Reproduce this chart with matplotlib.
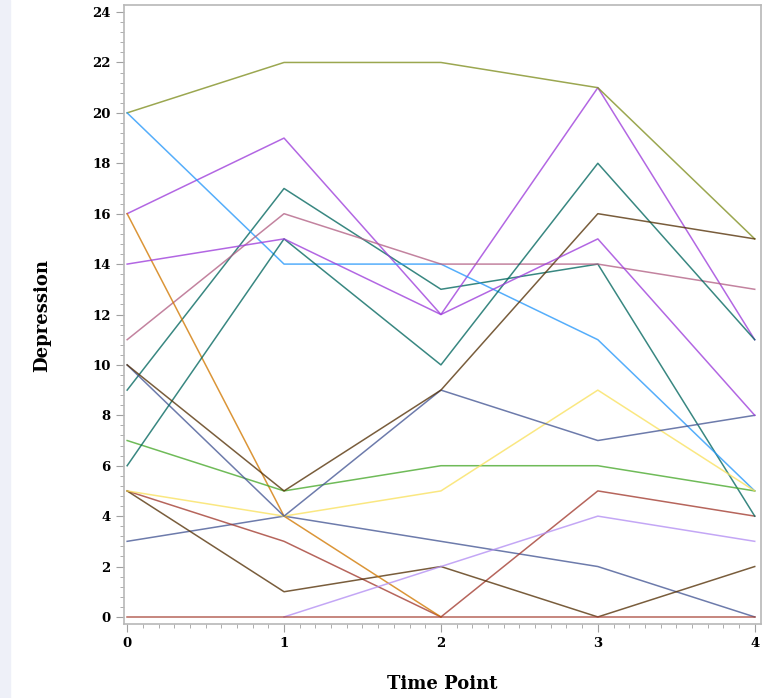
import numpy as np
import matplotlib.pyplot as plt
from matplotlib.ticker import MultipleLocator
from matplotlib.patches import Rectangle

plt.rcParams['font.family'] = 'DejaVu Serif'

time_points = [0, 1, 2, 3, 4]
nan = np.nan

# one profile per subject
subjects = [
    [3, 4, 3, 2, 0],
    [5, 3, 0, 5, 4],
    [9, 17, 13, 14, 4],
    [5, 1, 2, 0, 2],
    [16, 19, 12, 21, 11],
    [20, 22, 22, 21, 15],
    [20, 14, 14, 11, 5],
    [11, 16, 14, 14, 13],
    [16, 4, 0, nan, nan],
    [7, 5, 6, 6, 5],
    [nan, 0, 2, 4, 3],
    [5, 4, 5, 9, 5],
    [10, 4, 9, 7, 8],
    [0, 0, 0, 0, 0],
    [6, 15, 10, 18, 11],
    [10, 5, 9, 16, 15],
    [14, 15, 12, 15, 8],
]

colors = ['#445694', '#A23A2E', '#01665E', '#543005', '#9D3CDB', '#7F8E1F',
          '#2597FA', '#B26084', '#D17800', '#47A82A', '#B38EF3', '#F9E15E']

fig = plt.figure(figsize=(7.67, 6.98), dpi=100)
fig.patches.append(Rectangle((0, 0), 10 / 767, 1, transform=fig.transFigure,
                             color='#eef0f8', zorder=0))
ax = fig.add_axes([124 / 767, 74 / 698, 637 / 767, 619 / 698])

for i, vals in enumerate(subjects):
    ax.plot(time_points, vals, color=colors[i % len(colors)], lw=1.1, alpha=0.78)

ax.set_xlim(-0.02, 4.04)
ax.set_ylim(-0.28, 24.28)
ax.xaxis.set_major_locator(MultipleLocator(1))
ax.xaxis.set_minor_locator(MultipleLocator(0.1))
ax.yaxis.set_major_locator(MultipleLocator(2))
ax.yaxis.set_minor_locator(MultipleLocator(0.4))

for s in ax.spines.values():
    s.set_color('#b8b8b8')
    s.set_linewidth(1.2)
ax.tick_params(which='both', color='#a0a0a0', direction='out')
ax.tick_params(which='major', length=6, labelsize=9.5)
ax.tick_params(which='minor', length=3)
for lbl in ax.get_xticklabels() + ax.get_yticklabels():
    lbl.set_fontweight('bold')

ax.set_xlabel('Time Point', fontsize=13, fontweight='bold', labelpad=18)
fig.text(42 / 767, 1 - 315 / 698, 'Depression', rotation=90, ha='center',
         va='center', fontsize=13, fontweight='bold')

fig.savefig('out.png', dpi=100)
